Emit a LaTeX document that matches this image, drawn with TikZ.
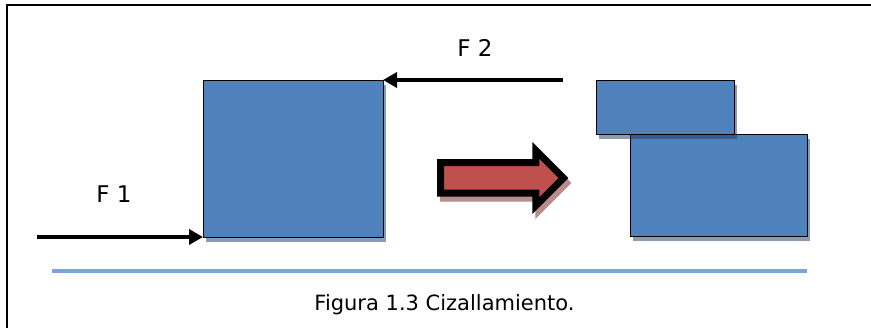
\documentclass[tikz,border=0pt]{standalone}
\usepackage{fontspec}
\setmainfont{DejaVu Sans}
\usepackage{tikz}
\usetikzlibrary{arrows.meta,shapes.arrows,positioning}

\definecolor{cajaazul}{HTML}{4F81BD}
\definecolor{sombra}{HTML}{1B3860}
\definecolor{flecharoja}{HTML}{C0504D}
\definecolor{flechasombra}{HTML}{B88C8C}
\definecolor{lineaazul}{HTML}{7BA3DF}

\begin{document}
\begin{tikzpicture}[
  x=1pt, y=-1pt,
  bloque/.style={draw=black, thin, fill=cajaazul, anchor=north west, inner sep=0pt, outer sep=0pt,
    preaction={fill=sombra, opacity=0.5, draw=none, transform canvas={shift={(3pt,-5pt)}}}},
  fuerza/.style={line width=3.5pt, -{Triangle[length=14pt,width=15pt]}},
  etiqueta/.style={anchor=base, font=\fontsize{23}{26}\selectfont},
  paso/.style={single arrow, draw=black, line width=7pt, fill=flecharoja, anchor=tail,
    minimum height=123pt, inner sep=11.75pt, outer sep=0pt, single arrow head extend=12.5pt,
    preaction={draw=flechasombra, fill=flechasombra, transform canvas={shift={(3pt,-5pt)}}}}
]
\useasboundingbox (0,0) rectangle (871,328);
\clip (0,0) rectangle (871,328);
\fill[white] (0,0) rectangle (871,328);
\draw[line width=2pt] (7,5) rectangle (900,360);

% bloque antes del corte
\node[bloque, minimum width=180pt, minimum height=157pt] (cubo) at (203,80) {};

% bloque cortado
\node[bloque, minimum width=177pt, minimum height=102pt] (base) at (630,134) {};
\node[bloque, minimum width=138pt, minimum height=54pt] (placa) at (596,80) {};

\coordinate (f1ini) at (37,237);
\coordinate (f2ini) at (563,80);
\draw[fuerza] (f1ini) -- (cubo.south west);
\draw[fuerza] (f2ini) -- (cubo.north east);
\node[etiqueta] (lf1) at (114,203) {F 1};
\node[etiqueta] (lf2) at (475,57) {F 2};

\node[paso] (flecha) at (440.5,178) {};

\coordinate (lini) at (52,271);
\coordinate (lfin) at (807,271);
\draw[lineaazul, line width=4pt] (lini) -- (lfin);

\node[anchor=base, font=\fontsize{21}{25}\selectfont] (pie) at (444.5,311) {Figura 1.3 Cizallamiento.};
\end{tikzpicture}
\end{document}
